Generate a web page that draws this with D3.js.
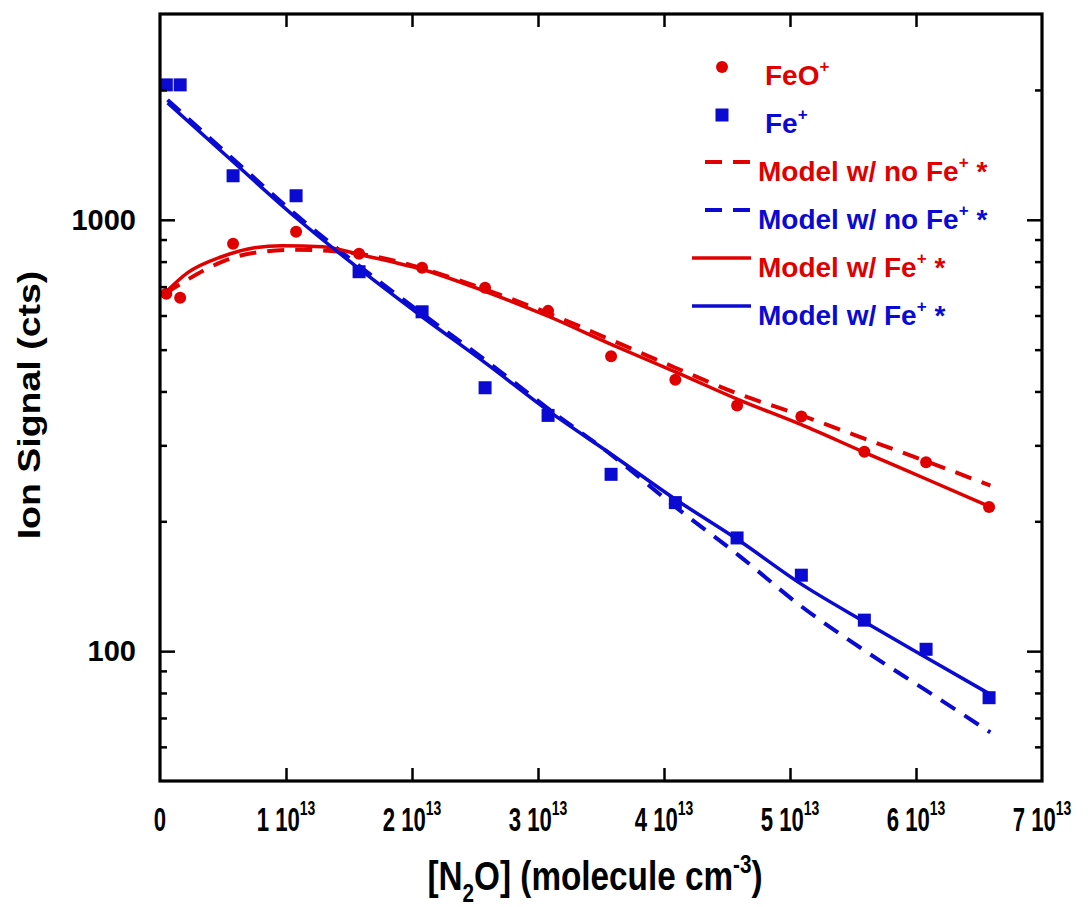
<!DOCTYPE html>
<html>
<head>
<meta charset="utf-8">
<script src="https://cdn.jsdelivr.net/npm/d3@7"></script>
<style>
  body { margin: 0; background: #fff; }
  svg text { font-family: "Liberation Sans", Arial, sans-serif; font-weight: bold; }
</style>
</head>
<body>
<svg id="chart" width="1088" height="907"></svg>
<script>
// [N2O] in units of 1e13 molecule cm^-3
const n2o = [0.05, 0.16, 0.58, 1.08, 1.58, 2.08, 2.58, 3.08, 3.58, 4.09, 4.58, 5.09, 5.59, 6.08, 6.58];
// measured ion signals (cts)
const feoSignal = [674, 660, 880, 938, 834, 774, 696, 615, 483, 426, 371, 350, 290, 274, 216];
const feSignal  = [2055, 2055, 1265, 1137, 758, 612, 408, 352, 257, 221, 183, 150, 118, 101, 78];

// model curves
const feoModelX = [0.04, 0.22, 0.49, 0.75, 0.97, 1.29, 1.59, 2.09, 2.59, 3.09, 3.59, 4.09, 4.59, 5.09, 5.59, 6.09, 6.59];
const feoModelFe = [677, 754, 821, 861, 871, 866, 830, 766, 681, 596, 513, 444, 383, 335, 289, 250, 216];
const feoNoFeX = [0.04, 0.22, 0.49, 0.75, 1.07, 1.44, 1.90, 2.09, 2.59, 3.09, 3.59, 4.09, 4.59, 5.09, 5.59, 6.09, 6.59];
const feoModelNoFe = [674, 727, 799, 839, 852, 843, 799, 770, 688, 606, 525, 454, 395, 352, 311, 275, 242];
const feModelX = [0.06, 0.58, 1.08, 1.59, 2.08, 2.59, 3.08, 3.59, 4.09, 4.59, 5.09, 5.59, 6.08, 6.59];
const feModelFe   = [1866, 1363, 1011, 766, 596, 464, 361, 285, 225, 181, 143, 117, 96.7, 79.4];
const feModelNoFe = [1897, 1384, 1027, 778, 606, 471, 365, 284, 216, 167, 127, 100.4, 81.1, 64.8];

const xTicks = [0, 1, 2, 3, 4, 5, 6, 7];
const yMajor = [100, 1000];
const yMinor = [60, 70, 80, 90, 200, 300, 400, 500, 600, 700, 800, 900, 2000];

const red = "#e00000";
const blue = "#0a0ad2";

const svg = d3.select("#chart");
const plotL = 160, plotR = 1042, plotT = 14, plotB = 781;

const x = d3.scaleLinear().domain([0, 7]).range([plotL, plotR]);
const y = d3.scaleLog().domain([50, 3000]).range([plotB, plotT]);

// ---- model lines ----
const line = d3.line().curve(d3.curveMonotoneX);
function drawModel(xs, ys, color, dashed) {
  svg.append("path")
    .attr("d", line(xs.map((d, i) => [x(d), y(ys[i])])))
    .attr("fill", "none")
    .attr("stroke", color)
    .attr("stroke-width", dashed ? 4 : 3.5)
    .attr("stroke-dasharray", dashed ? "17,11" : null);
}
drawModel(feoNoFeX, feoModelNoFe, red, true);
drawModel(feModelX, feModelNoFe, blue, true);
drawModel(feoModelX, feoModelFe, red, false);
drawModel(feModelX, feModelFe, blue, false);

// ---- data points ----
svg.append("g").selectAll("circle").data(n2o).join("circle")
  .attr("cx", d => x(d)).attr("cy", (d, i) => y(feoSignal[i]))
  .attr("r", 6).attr("fill", red);
const sq = 13;
svg.append("g").selectAll("rect").data(n2o).join("rect")
  .attr("x", d => x(d) - sq / 2).attr("y", (d, i) => y(feSignal[i]) - sq / 2)
  .attr("width", sq).attr("height", sq).attr("fill", blue);

// ---- axes (ticks point inward on all four sides) ----
function ticks(gen, size) {
  return gen.tickSize(size).tickFormat("");
}
const xt = xTicks.slice(1, -1);
svg.append("g").attr("transform", `translate(0,${plotB})`)
  .call(ticks(d3.axisTop(x).tickValues(xt), 13));
svg.append("g").attr("transform", `translate(0,${plotT})`)
  .call(ticks(d3.axisBottom(x).tickValues(xt), 13));
svg.append("g").attr("transform", `translate(${plotL},0)`)
  .call(ticks(d3.axisRight(y).tickValues(yMajor), 15));
svg.append("g").attr("transform", `translate(${plotL},0)`)
  .call(ticks(d3.axisRight(y).tickValues(yMinor), 7));
svg.append("g").attr("transform", `translate(${plotR},0)`)
  .call(ticks(d3.axisLeft(y).tickValues(yMajor), 15));
svg.append("g").attr("transform", `translate(${plotR},0)`)
  .call(ticks(d3.axisLeft(y).tickValues(yMinor), 7));
svg.selectAll(".domain").remove();
svg.selectAll(".tick line").attr("stroke", "#000").attr("stroke-width", 2.5);

svg.append("rect")
  .attr("x", plotL).attr("y", plotT)
  .attr("width", plotR - plotL).attr("height", plotB - plotT)
  .attr("fill", "none").attr("stroke", "#000").attr("stroke-width", 3.2);

// ---- tick labels ----
svg.append("g").selectAll("text").data(yMajor).join("text")
  .attr("x", 136).attr("y", d => y(d) + 10)
  .attr("text-anchor", "end")
  .attr("font-size", 29)
  .text(d => d);

// x tick labels: "n 10^13"
const xl = svg.append("g").selectAll("g").data(xTicks).join("g")
  .attr("transform", d => `translate(${x(d)},831) scale(0.82,1.24)`);
xl.each(function (d) {
  const t = d3.select(this).append("text").attr("font-size", 27).attr("text-anchor", "middle");
  if (d === 0) { t.text("0"); return; }
  t.append("tspan").text(d + " 10");
  t.append("tspan").attr("font-size", 17).attr("dy", -13).text("13");
});

// axis titles
svg.append("text")
  .attr("transform", "translate(40,405) rotate(-90) scale(1.21,1)")
  .attr("text-anchor", "middle")
  .attr("font-size", 31)
  .text("Ion Signal (cts)");

const xt2 = svg.append("text")
  .attr("transform", "translate(595,890) scale(0.9,1.08)")
  .attr("text-anchor", "middle")
  .attr("font-size", 37);
xt2.append("tspan").text("[N");
xt2.append("tspan").attr("font-size", 23).attr("dy", 11).text("2");
xt2.append("tspan").attr("dy", -11).text("O] (molecule cm");
xt2.append("tspan").attr("font-size", 23).attr("dy", -16).text("-3");
xt2.append("tspan").attr("dy", 16).text(")");

// ---- legend ----
const leg = svg.append("g");
leg.append("circle").attr("cx", 722).attr("cy", 67).attr("r", 6).attr("fill", red);
leg.append("rect").attr("x", 722 - sq / 2).attr("y", 115 - sq / 2).attr("width", sq).attr("height", sq).attr("fill", blue);

function legText(xp, yp, color, pre, post) {
  const t = leg.append("text").attr("x", xp).attr("y", yp).attr("fill", color).attr("font-size", 28);
  t.append("tspan").text(pre);
  t.append("tspan").attr("font-size", 17).attr("dy", -13).text("+");
  if (post) t.append("tspan").attr("dy", 13).text(post);
}
legText(765, 85, red, "FeO", null);
legText(765, 133, blue, "Fe", null);

const legRows = [
  { y: 181, color: red, dashed: true, pre: "Model w/ no Fe" },
  { y: 229, color: blue, dashed: true, pre: "Model w/ no Fe" },
  { y: 277, color: red, dashed: false, pre: "Model w/ Fe" },
  { y: 325, color: blue, dashed: false, pre: "Model w/ Fe" }
];
legRows.forEach(r => {
  leg.append("line")
    .attr("x1", r.dashed ? 705 : 692).attr("x2", 751)
    .attr("y1", r.y - 19).attr("y2", r.y - 19)
    .attr("stroke", r.color).attr("stroke-width", r.dashed ? 4 : 3.5)
    .attr("stroke-dasharray", r.dashed ? "17,11" : null);
  legText(758, r.y, r.color, r.pre, " *");
});
</script>
</body>
</html>
